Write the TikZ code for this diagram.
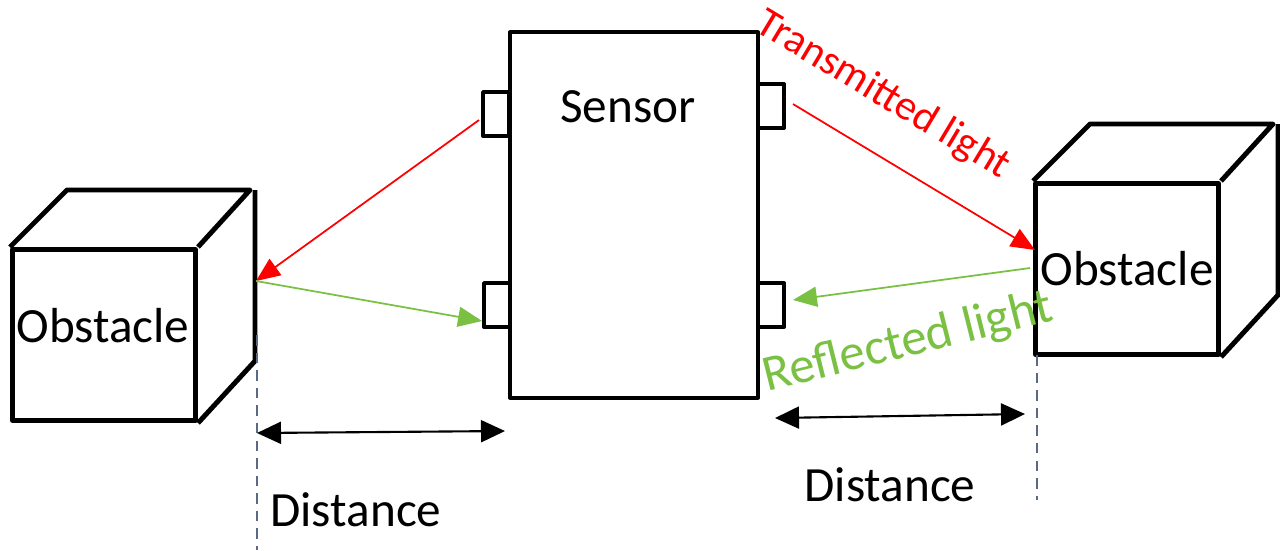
\documentclass[tikz,border=0pt]{standalone}
\usepackage{fontspec}
\setmainfont{Carlito}
\usetikzlibrary{arrows.meta,positioning,calc}

\definecolor{txred}{HTML}{FF0000}
\definecolor{rxgreen}{HTML}{7AC143}
\definecolor{guide}{HTML}{5A6A85}

\begin{document}
\begin{tikzpicture}[x=0.01cm,y=0.01cm,line join=round,
                    font=\fontsize{14}{17}\selectfont]
  \tikzstyle{box}=[draw=black,line width=1.1pt,fill=white,inner sep=0pt]
  \tikzstyle{port}=[box,minimum width=0.26cm,minimum height=0.44cm]
  \tikzstyle{face}=[box,line width=1.4pt,minimum width=1.83cm,minimum height=1.71cm]
  \tikzstyle{ray}=[line width=0.5pt,-{Triangle[length=0.24cm,width=0.2cm]}]
  \tikzstyle{span}=[line width=0.6pt,{Triangle[length=0.24cm,width=0.22cm]}-{Triangle[length=0.24cm,width=0.22cm]}]
  \tikzstyle{guideline}=[draw=guide,line width=0.5pt,dash pattern=on 3pt off 2pt]

  \useasboundingbox (0,0) rectangle (1280,550);

  % sensor body with its four windows
  \node[box,minimum width=2.48cm,minimum height=3.65cm] (sensor) at (634,335) {};
  \node (sname) at (628,443) {Sensor};
  \node[port] (portLU) at (496,436) {};
  \node[port] (portLL) at (497,245) {};
  \node[port] (portRU) at (771,444) {};
  \node[port] (portRL) at (771,245) {};

  % obstacles (front face + depth edges)
  \node[face] (obsL) at (104,215) {};
  \node (obsLname) at (103,224) {Obstacle};
  \node[face] (obsR) at (1127,281) {Obstacle};
  \foreach \o in {obsL,obsR}{
    \draw[line width=1.4pt] (\o.north west) -- ++(57,57) -- ++(183,0) -- (\o.north east)
      ($(\o.north east)+(57,57)$) -- ++(0,-171) -- (\o.south east);
  }

  % where the light hits the obstacles
  \coordinate (hitL) at (256,269);
  \coordinate (hitR) at (1035,300);

  % light paths
  \draw[ray,txred] ([xshift=-0.02cm,yshift=-0.06cm]portLU.west) -- (hitL);
  \draw[ray,rxgreen] (hitL) -- ([yshift=-0.16cm]portLL.west);
  \draw[ray,txred] ([xshift=0.07cm,yshift=0.02cm]portRU.east) -- (hitR);
  \draw[ray,rxgreen] ([xshift=-0.05cm,yshift=-0.18cm]hitR) -- ([xshift=0.07cm,yshift=0.05cm]portRL.east);

  \node[txred,rotate=-31,font=\fontsize{12}{14}\selectfont] (txlabel) at (883,455) {Transmitted light};
  \node[rxgreen,rotate=14,font=\fontsize{14.5}{17}\selectfont] (rxlabel) at (908,207) {Reflected light};

  % distance markers
  \coordinate (gLtop) at (257,215);
  \coordinate (gLbot) at (257,0);
  \coordinate (gRtop) at (1037,195);
  \coordinate (gRbot) at (1037,50);
  \draw[guideline] (gLtop) -- (gLbot);
  \draw[guideline] (gRtop) -- (gRbot);

  \coordinate (dLa) at (257,117);
  \coordinate (dLb) at (505,119);
  \coordinate (dRa) at (775,132);
  \coordinate (dRb) at (1025,136);
  \draw[span] (dLa) -- (dLb);
  \draw[span] (dRa) -- (dRb);

  \node[anchor=west] (distL) at (258,40) {Distance};
  \node (distR) at (890,65) {Distance};
\end{tikzpicture}
\end{document}
